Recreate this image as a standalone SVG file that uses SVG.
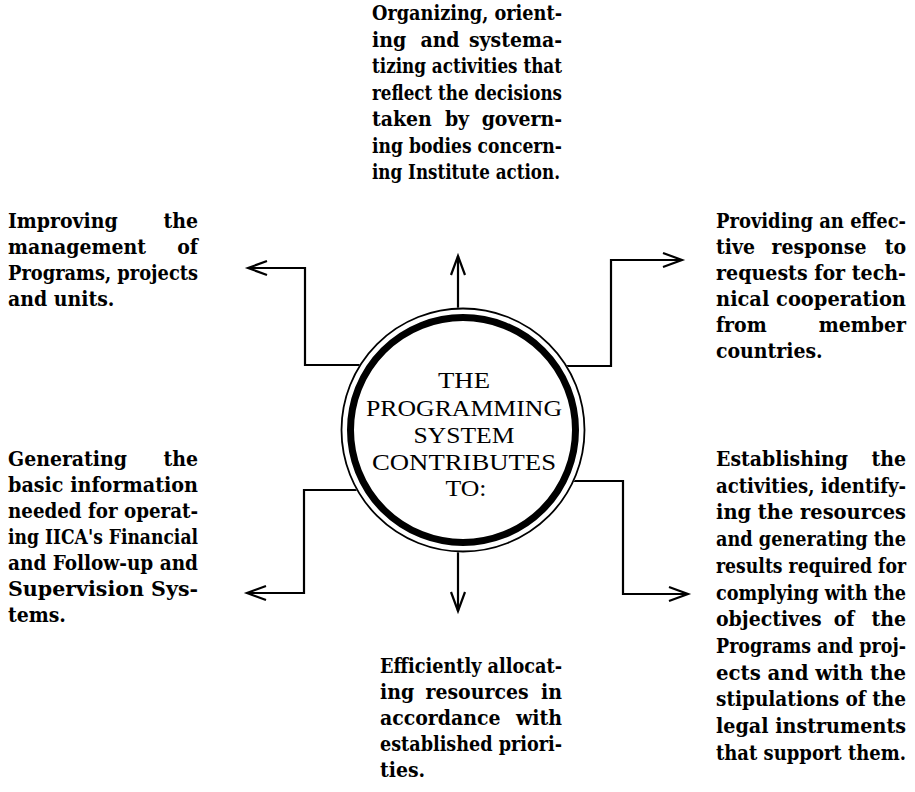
<svg xmlns="http://www.w3.org/2000/svg" width="915" height="792" viewBox="0 0 915 792">
<style>
.t{font-family:"DejaVu Serif","Liberation Serif",serif;font-stretch:condensed;font-weight:bold;font-size:21px;fill:#000}
.j{font-size:20.2px}
.e{text-anchor:end}
.m{text-anchor:middle}
.c{font-family:"Liberation Serif","Times New Roman",serif;font-size:23.5px;fill:#000;text-anchor:middle}
.conn{fill:none;stroke:#000;stroke-width:2.2;stroke-linejoin:miter}
</style>
<defs>
<marker id="arr" markerUnits="userSpaceOnUse" markerWidth="24" markerHeight="18" viewBox="-20 -9 24 18" refX="0" refY="0" orient="auto" overflow="visible">
<path d="M-19,-7 L0,0 L-19,7" fill="none" stroke="#000" stroke-width="2.2"/>
</marker>
</defs>
<rect width="915" height="792" fill="#fff"/>
<g id="connectors">
<path class="conn" d="M458,330 V256" marker-end="url(#arr)"/>
<path class="conn" d="M375,365 H305 V268 H248" marker-end="url(#arr)"/>
<path class="conn" d="M550,366 H611 V260 H682" marker-end="url(#arr)"/>
<path class="conn" d="M375,490 H304 V593 H247" marker-end="url(#arr)"/>
<path class="conn" d="M555,481 H623 V594 H688" marker-end="url(#arr)"/>
<path class="conn" d="M458,530 V611" marker-end="url(#arr)"/>
</g>
<g id="center">
<circle cx="463" cy="430" r="122.5" fill="#fff"/>
<circle cx="463" cy="430" r="121.5" fill="none" stroke="#000" stroke-width="1.8"/>
<circle cx="463" cy="430" r="112.5" fill="none" stroke="#000" stroke-width="7"/>
<text class="c" x="464" y="388" textLength="52" lengthAdjust="spacingAndGlyphs">THE</text>
<text class="c" x="464" y="416" textLength="196" lengthAdjust="spacingAndGlyphs">PROGRAMMING</text>
<text class="c" x="464" y="443" textLength="101" lengthAdjust="spacingAndGlyphs">SYSTEM</text>
<text class="c" x="464" y="470" textLength="184" lengthAdjust="spacingAndGlyphs">CONTRIBUTES</text>
<text class="c" x="466" y="496" textLength="41" lengthAdjust="spacingAndGlyphs">TO:</text>
</g>
<g id="node-top">
<text class="t j" x="372" y="20" textLength="190" lengthAdjust="spacingAndGlyphs">Organizing, orient-</text>
<text class="t" x="372" y="46.5">ing</text><text class="t m" x="440" y="46.5">and</text><text class="t e" x="562" y="46.5">systema-</text>
<text class="t j" x="372" y="73" textLength="190" lengthAdjust="spacingAndGlyphs">tizing activities that</text>
<text class="t j" x="372" y="99.5" textLength="190" lengthAdjust="spacingAndGlyphs">reflect the decisions</text>
<text class="t" x="372" y="126">taken</text><text class="t m" x="457" y="126">by</text><text class="t e" x="562" y="126">govern-</text>
<text class="t j" x="372" y="152.5" textLength="190" lengthAdjust="spacingAndGlyphs">ing bodies concern-</text>
<text class="t j" x="372" y="179" textLength="188" lengthAdjust="spacingAndGlyphs">ing Institute action.</text>
</g>
<g id="node-top-left">
<text class="t" x="8" y="228">Improving</text><text class="t e" x="198" y="228">the</text>
<text class="t" x="8" y="254">management</text><text class="t e" x="198" y="254">of</text>
<text class="t j" x="8" y="280" textLength="190" lengthAdjust="spacingAndGlyphs">Programs, projects</text>
<text class="t" x="8" y="306">and units.</text>
</g>
<g id="node-top-right">
<text class="t j" x="716" y="228" textLength="190" lengthAdjust="spacingAndGlyphs">Providing an effec-</text>
<text class="t" x="716" y="254">tive</text><text class="t m" x="819" y="254">response</text><text class="t e" x="906" y="254">to</text>
<text class="t j" x="716" y="280" textLength="190" lengthAdjust="spacingAndGlyphs">requests for tech-</text>
<text class="t j" x="716" y="306" textLength="190" lengthAdjust="spacingAndGlyphs">nical cooperation</text>
<text class="t" x="716" y="332">from</text><text class="t e" x="906" y="332">member</text>
<text class="t" x="716" y="358">countries.</text>
</g>
<g id="node-bottom-left">
<text class="t" x="8" y="466">Generating</text><text class="t e" x="198" y="466">the</text>
<text class="t j" x="8" y="492" textLength="190" lengthAdjust="spacingAndGlyphs">basic information</text>
<text class="t j" x="8" y="518" textLength="190" lengthAdjust="spacingAndGlyphs">needed for operat-</text>
<text class="t j" x="8" y="544" textLength="190" lengthAdjust="spacingAndGlyphs">ing IICA's Financial</text>
<text class="t j" x="8" y="570" textLength="190" lengthAdjust="spacingAndGlyphs">and Follow-up and</text>
<text class="t j" x="8" y="596" textLength="190" lengthAdjust="spacingAndGlyphs">Supervision Sys-</text>
<text class="t" x="8" y="622">tems.</text>
</g>
<g id="node-bottom-right">
<text class="t" x="716" y="466">Establishing</text><text class="t e" x="906" y="466">the</text>
<text class="t j" x="716" y="492.7" textLength="190" lengthAdjust="spacingAndGlyphs">activities, identify-</text>
<text class="t j" x="716" y="519.4" textLength="190" lengthAdjust="spacingAndGlyphs">ing the resources</text>
<text class="t j" x="716" y="546.1" textLength="190" lengthAdjust="spacingAndGlyphs">and generating the</text>
<text class="t j" x="716" y="572.8" textLength="190" lengthAdjust="spacingAndGlyphs">results required for</text>
<text class="t j" x="716" y="599.5" textLength="190" lengthAdjust="spacingAndGlyphs">complying with the</text>
<text class="t" x="716" y="626.2">objectives</text><text class="t m" x="844" y="626.2">of</text><text class="t e" x="906" y="626.2">the</text>
<text class="t j" x="716" y="652.9" textLength="190" lengthAdjust="spacingAndGlyphs">Programs and proj-</text>
<text class="t j" x="716" y="679.6" textLength="190" lengthAdjust="spacingAndGlyphs">ects and with the</text>
<text class="t j" x="716" y="706.3" textLength="190" lengthAdjust="spacingAndGlyphs">stipulations of the</text>
<text class="t j" x="716" y="733" textLength="190" lengthAdjust="spacingAndGlyphs">legal instruments</text>
<text class="t j" x="716" y="759.7" textLength="190" lengthAdjust="spacingAndGlyphs">that support them.</text>
</g>
<g id="node-bottom">
<text class="t j" x="380" y="673" textLength="182" lengthAdjust="spacingAndGlyphs">Efficiently allocat-</text>
<text class="t" x="380" y="699">ing</text><text class="t m" x="477" y="699">resources</text><text class="t e" x="562" y="699">in</text>
<text class="t" x="380" y="725">accordance</text><text class="t e" x="562" y="725">with</text>
<text class="t j" x="380" y="751" textLength="182" lengthAdjust="spacingAndGlyphs">established priori-</text>
<text class="t" x="380" y="777">ties.</text>
</g>
</svg>
